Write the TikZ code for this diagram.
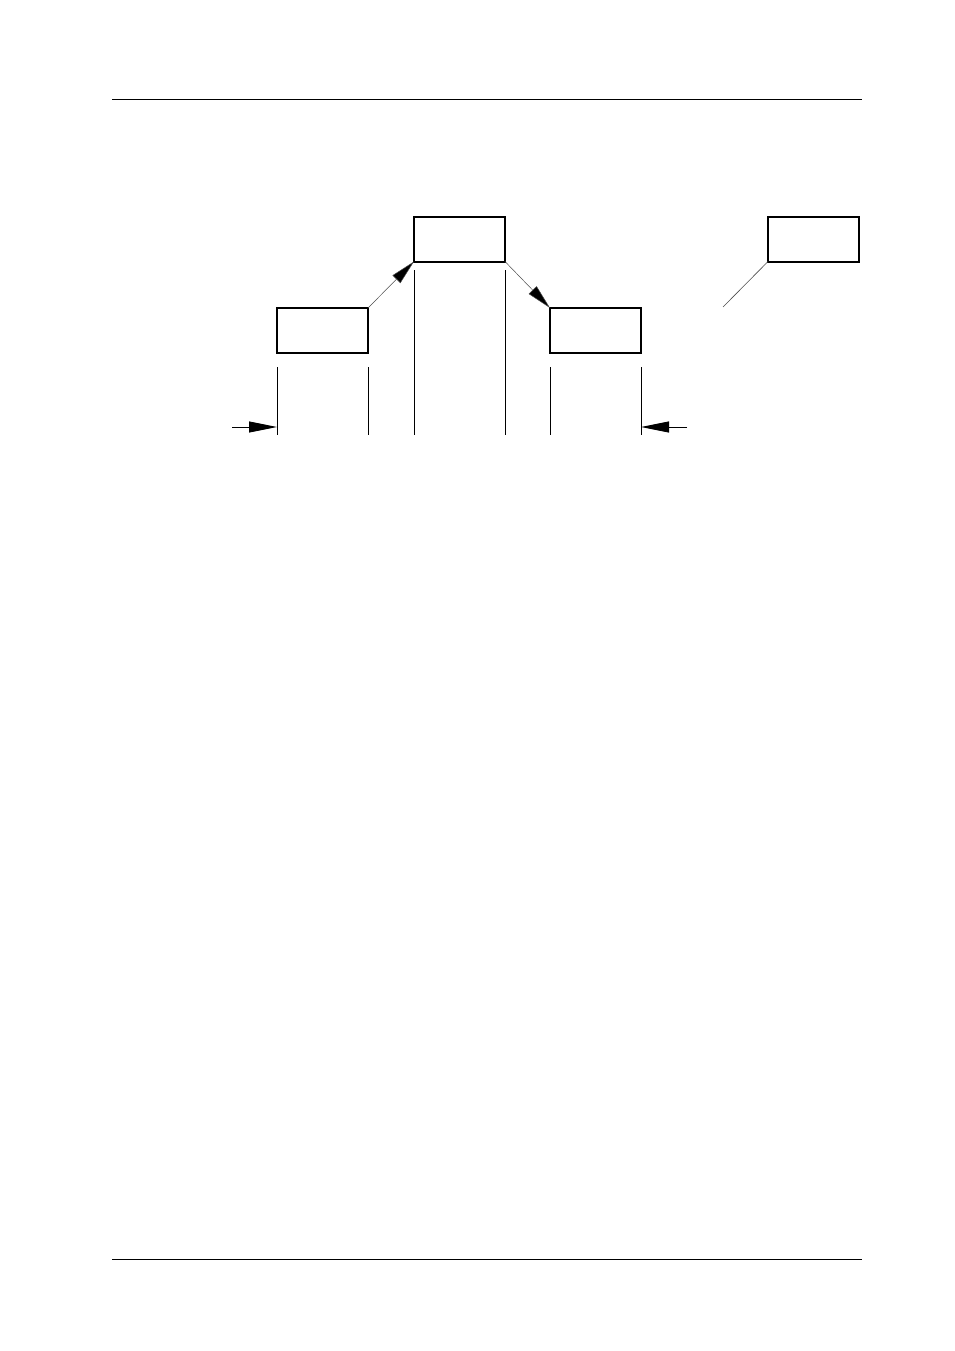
\documentclass[tikz,border=0pt]{standalone}
\usetikzlibrary{arrows.meta}
\begin{document}
\begin{tikzpicture}[x=1pt,y=-1pt,
  blk/.style={draw,line width=2pt,minimum width=91pt,minimum height=45pt,inner sep=0pt,outer sep=0pt},
  rule/.style={line width=1pt},
  ext/.style={line width=0.9pt},
  conn/.style={line width=0.5pt,draw=black!70,-{Triangle[length=25pt,width=11pt,fill=black]}},
  dim/.style={line width=0.9pt,-{Triangle[length=28pt,width=11pt]}},
  lead/.style={line width=0.6pt,draw=black!70}]
\useasboundingbox (0,0) rectangle (954,1351);
% page rules
\coordinate (h1) at (112,100); \coordinate (h2) at (862,100);
\coordinate (f1) at (112,1259); \coordinate (f2) at (862,1259);
\draw[rule] (h1) -- (h2);
\draw[rule] (f1) -- (f2);
% boxes
\node[blk] (lb) at (322.5,330.5) {};
\node[blk] (mb) at (459.5,239) {};
\node[blk] (rb) at (595.5,330.5) {};
\node[blk] (fb) at (813.5,239) {};
% connectors
\draw[conn] (lb.north east) -- (mb.south west);
\draw[conn] (mb.south east) -- (rb.north west);
\coordinate (le) at (723,307);
\draw[lead] (fb.south west) -- (le);
% extension lines
\draw[ext] (lb.south west |- 0,367) -- (lb.south west |- 0,435);
\draw[ext] (lb.south east |- 0,367) -- (lb.south east |- 0,435);
\draw[ext] (mb.south west |- 0,270) -- (mb.south west |- 0,435);
\draw[ext] (mb.south east |- 0,270) -- (mb.south east |- 0,435);
\draw[ext] (rb.south west |- 0,367) -- (rb.south west |- 0,435);
\draw[ext] (rb.south east |- 0,367) -- (rb.south east |- 0,435);
% dimension arrows
\coordinate (dl) at (232,427);
\coordinate (dr) at (687,427);
\draw[dim] (dl) -- (lb.south west |- dl);
\draw[dim] (dr) -- (rb.south east |- dr);
\end{tikzpicture}
\end{document}
